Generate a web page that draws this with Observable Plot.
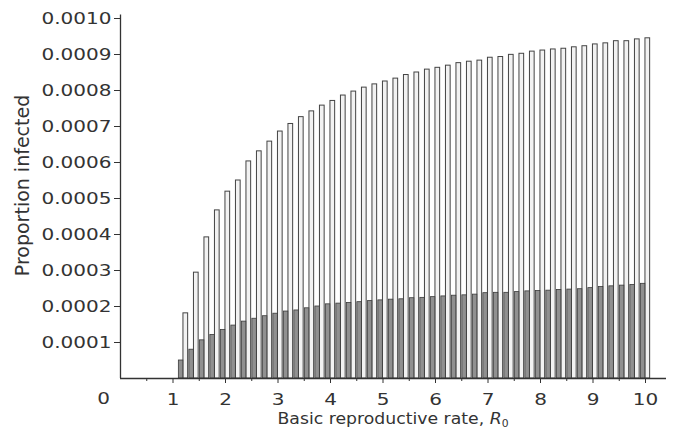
<!DOCTYPE html>
<html>
<head>
<meta charset="utf-8">
<script src="https://cdn.jsdelivr.net/npm/d3@7"></script>
<script src="https://cdn.jsdelivr.net/npm/@observablehq/plot@0.6"></script>
<style>
  body { margin: 0; background: #ffffff; }
</style>
</head>
<body>
<div id="chart"></div>
<script>
// Basic reproductive rate values, one pair of bars per value
const r0 = [1.2, 1.4, 1.6, 1.8, 2.0, 2.2, 2.4, 2.6, 2.8, 3.0,
            3.2, 3.4, 3.6, 3.8, 4.0, 4.2, 4.4, 4.6, 4.8, 5.0,
            5.2, 5.4, 5.6, 5.8, 6.0, 6.2, 6.4, 6.6, 6.8, 7.0,
            7.2, 7.4, 7.6, 7.8, 8.0, 8.2, 8.4, 8.6, 8.8, 9.0,
            9.2, 9.4, 9.6, 9.8, 10.0];

// Proportion infected, open (tall) bars
const openBars = [0.000181, 0.000294, 0.000392, 0.000467, 0.000519, 0.000550, 0.000603, 0.000631, 0.000658, 0.000686,
                  0.000707, 0.000726, 0.000742, 0.000758, 0.000771, 0.000786, 0.000797, 0.000808, 0.000817, 0.000825,
                  0.000833, 0.000843, 0.000850, 0.000858, 0.000863, 0.000869, 0.000876, 0.000880, 0.000883, 0.000891,
                  0.000893, 0.000899, 0.000902, 0.000908, 0.000911, 0.000914, 0.000916, 0.000920, 0.000923, 0.000928,
                  0.000931, 0.000937, 0.000937, 0.000942, 0.000945];

// Proportion infected, shaded (short) bars
const shadedBars = [0.000050, 0.000080, 0.000106, 0.000121, 0.000135, 0.000147, 0.000158, 0.000166, 0.000173, 0.000180,
                    0.000186, 0.000189, 0.000195, 0.000200, 0.000206, 0.000208, 0.000210, 0.000212, 0.000215, 0.000217,
                    0.000219, 0.000220, 0.000223, 0.000224, 0.000226, 0.000228, 0.000230, 0.000231, 0.000233, 0.000237,
                    0.000238, 0.000238, 0.000240, 0.000242, 0.000243, 0.000244, 0.000246, 0.000247, 0.000248, 0.000251,
                    0.000254, 0.000256, 0.000258, 0.000260, 0.000263];

// Axis ticks
const xTicks = [1, 2, 3, 4, 5, 6, 7, 8, 9, 10];
const xMinorTicks = [0.5, 1.5, 2.5, 3.5, 4.5, 5.5, 6.5, 7.5, 8.5, 9.5];
const yTicks = [0.0001, 0.0002, 0.0003, 0.0004, 0.0005, 0.0006, 0.0007, 0.0008, 0.0009, 0.0010];

const rows = r0.map((r, i) => ({r, open: openBars[i], shaded: shadedBars[i]}));
const half = 0.1; // half of the spacing between successive R0 values

const ink = "#333333";

const plot = Plot.plot({
  width: 675,
  height: 432,
  marginLeft: 120,
  marginRight: 9,
  marginTop: 18,
  marginBottom: 54,
  x: {type: "linear", domain: [0, 10.4]},
  y: {type: "linear", domain: [0, 0.001]},
  style: {fontFamily: "'DejaVu Sans', sans-serif", fontSize: "16px", color: ink, background: "#ffffff"},
  marks: [
    // open bars (drawn full height, to the right of each pair)
    Plot.rectY(rows, {
      x1: d => d.r - half, x2: d => d.r + half,
      y1: 0, y2: "open",
      insetLeft: 5.2, insetRight: 0.6,
      fill: "#f2f2f2", stroke: "#444444", strokeWidth: 1
    }),
    // shaded bars (left of each pair)
    Plot.rectY(rows, {
      x1: d => d.r - half, x2: d => d.r + half,
      y1: 0, y2: "shaded",
      insetLeft: 0.6, insetRight: 5.4,
      fill: "#909090", stroke: "#3a3a3a", strokeWidth: 0.8
    }),
    // axis lines
    Plot.ruleY([0], {x1: 0, x2: 10.4, stroke: ink, strokeWidth: 1.3}),
    Plot.ruleX([0], {y1: 0, y2: 0.00101, stroke: ink, strokeWidth: 1.3}),
    Plot.axisY(yTicks, {
      tickFormat: d3.format(".4f"), tickSize: 6, tickPadding: 3,
      fontSize: 16, label: null, stroke: ink
    }),
    Plot.axisX(xTicks, {
      tickFormat: d => String(d), tickSize: 5, tickPadding: 10,
      fontSize: 16, label: null, stroke: ink
    }),
    // short unlabelled minor ticks
    Plot.axisX(xMinorTicks, {tickSize: 3, text: null, label: null, stroke: ink}),
    // origin label
    Plot.text([0], {x: d => d, frameAnchor: "bottom", text: d => String(d),
      dx: -17, dy: 25, fontSize: 16, fill: ink, className: "origin-label"}),
    // y axis title
    Plot.text(["Proportion infected"], {frameAnchor: "left", textAnchor: "middle", rotate: -90,
      dx: -98, dy: -13, fontSize: 19, fill: ink})
  ]
});

const svg = d3.select(plot);

// widen the glyphs of tick labels about their own anchor points
function widen(selection, s) {
  selection.each(function() {
    const x = parseFloat(this.getAttribute("x")) || 0;
    const y = parseFloat(this.getAttribute("y")) || 0;
    const t = this.getAttribute("transform") || "";
    this.setAttribute("transform", `${t} translate(${x},${y}) scale(${s},1) translate(${-x},${-y})`);
  });
}
widen(svg.selectAll('g[aria-label="y-axis tick label"] text'), 1.25);
widen(svg.selectAll('g[aria-label="x-axis tick label"] text'), 1.25);
widen(svg.selectAll('.origin-label text'), 1.25);

// x axis title with italic R and subscript 0
const [xa, xb] = plot.scale("x").range;
const title = svg.append("text")
  .attr("transform", `translate(${(xa + xb) / 2},424) scale(1.08,1)`)
  .attr("text-anchor", "middle")
  .attr("font-size", 16)
  .attr("fill", ink)
  .text("Basic reproductive rate, ");
title.append("tspan").attr("font-style", "italic").text("R");
title.append("tspan").attr("font-size", 10).attr("dy", 3).text("0");

document.getElementById("chart").append(plot);
</script>
</body>
</html>
